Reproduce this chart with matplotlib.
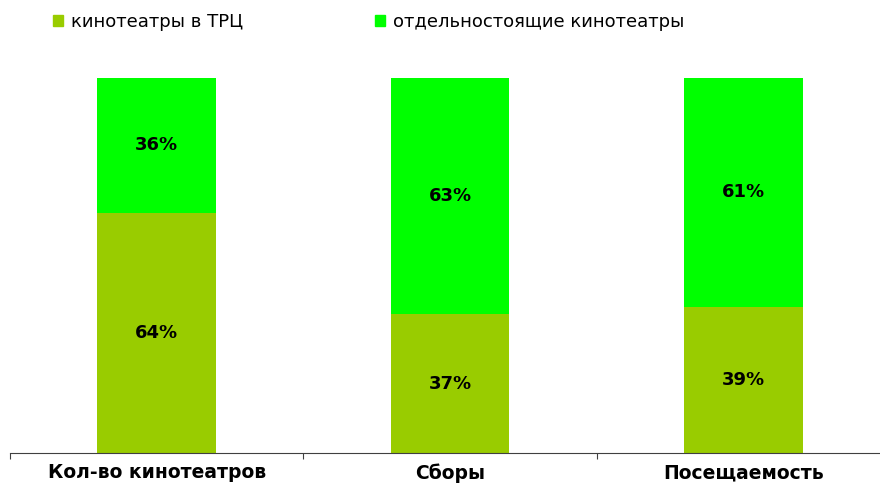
import matplotlib
matplotlib.use("Agg")
import matplotlib.pyplot as plt
from matplotlib.patches import Patch

categories = ["Кол-во кинотеатров", "Сборы", "Посещаемость"]
series_names = ["кинотеатры в ТРЦ", "отдельностоящие кинотеатры"]
trc = [64, 37, 39]
standalone = [36, 63, 61]
colors = ["#99CC00", "#00FF00"]

plt.rcParams['font.family'] = ['DejaVu Sans']

fig = plt.figure(figsize=(8.8, 4.84), dpi=100)
ax = fig.add_axes([10/880, 1 - 453/484, 880/880, 375/484])

x = list(range(len(categories)))
w = 0.405
ax.bar(x, trc, width=w, color=colors[0], edgecolor="none", linewidth=0, zorder=2)
ax.bar(x, standalone, width=w, bottom=trc, color=colors[1], edgecolor="none", linewidth=0, zorder=2)

for xi, v in zip(x, trc):
    ax.text(xi, v / 2, f"{v}%", ha="center", va="center", fontsize=13, fontweight="bold")
for xi, b, v in zip(x, trc, standalone):
    ax.text(xi, b + v / 2, f"{v}%", ha="center", va="center", fontsize=13, fontweight="bold")

ax.set_xlim(-0.5, 2.5)
ax.set_ylim(0, 100)
ax.set_yticks([])
for s in ["top", "right", "left"]:
    ax.spines[s].set_visible(False)
ax.spines["bottom"].set_color("#404040")
ax.set_xticks([-0.5, 0.5, 1.5, 2.5])
ax.set_xticklabels([])
ax.set_xticks(x, minor=True)
ax.set_xticklabels(categories, minor=True, fontsize=13.5, fontweight="bold")
ax.tick_params(axis="x", which="major", length=4, direction="out", color="#404040")
ax.tick_params(axis="x", which="minor", length=0, pad=7.5)

handles = [Patch(color=c) for c in colors]
fig.legend(handles, series_names, loc="upper left", bbox_to_anchor=(53/880, 1 - 13/484),
           ncol=2, frameon=False, fontsize=13, handlelength=0.55, handleheight=0.55,
           handletextpad=0.45, columnspacing=7.3, borderpad=0, borderaxespad=0)

fig.savefig("out.png", dpi=100)
